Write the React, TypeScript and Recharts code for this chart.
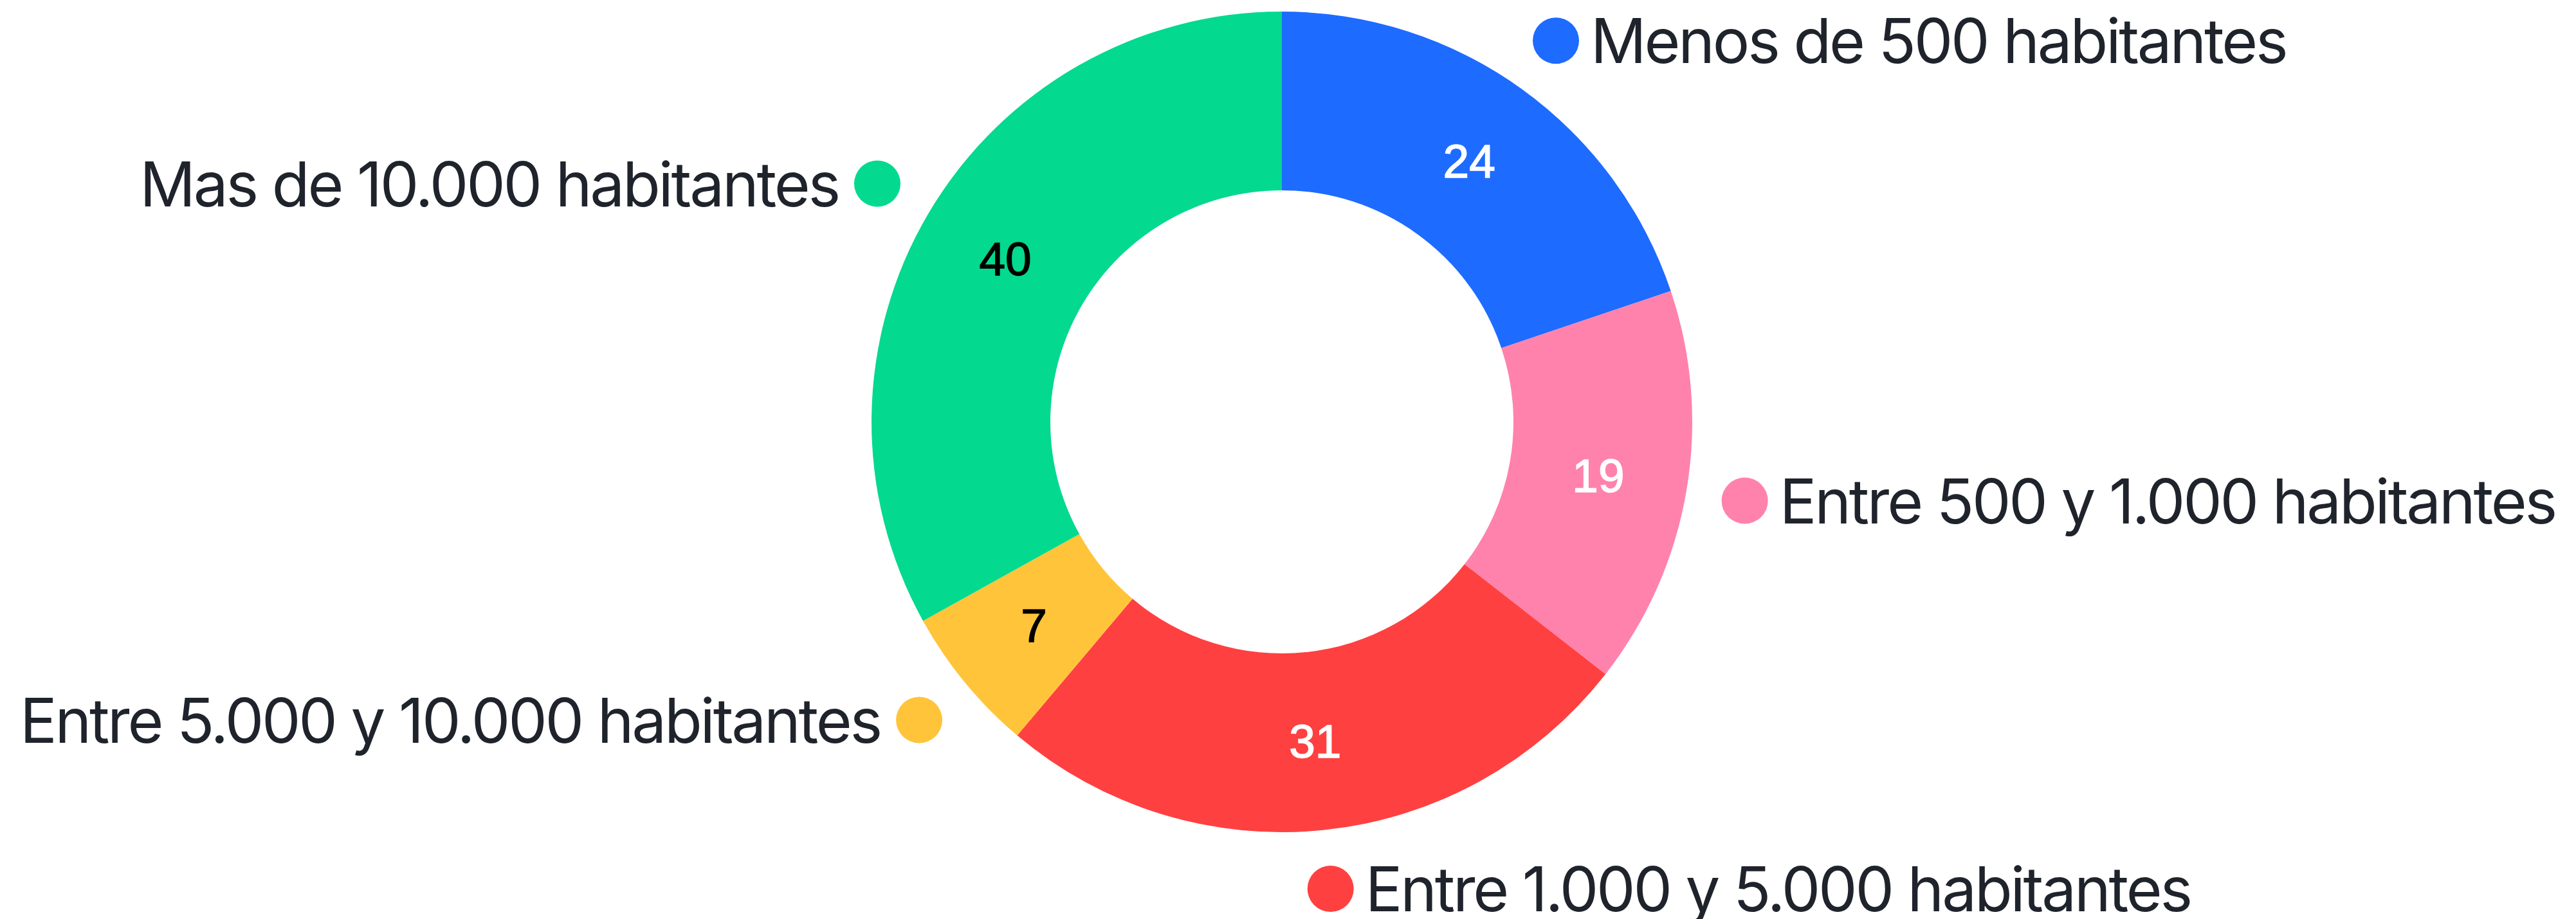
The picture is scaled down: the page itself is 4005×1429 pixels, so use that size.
import { PieChart, Pie, Cell } from "recharts";

const categories = [
  "Menos de 500 habitantes",
  "Entre 500 y 1.000 habitantes",
  "Entre 1.000 y 5.000 habitantes",
  "Entre 5.000 y 10.000 habitantes",
  "Mas de 10.000 habitantes",
];
const values = [24, 19, 31, 7, 40];
const colors = ["#1E6BFF", "#FF82AC", "#FF4040", "#FFC43A", "#03D98F"];
const valueInk = ["#FFFFFF", "#FFFFFF", "#FFFFFF", "#000000", "#000000"];

const data = categories.map((name, i) => ({ name, value: values[i] }));

const RAD = Math.PI / 180;

function renderLabel(props: any) {
  const { cx, cy, midAngle, innerRadius, outerRadius, index, value, name } = props;
  const cos = Math.cos(-midAngle * RAD);
  const sin = Math.sin(-midAngle * RAD);
  const mid = (innerRadius + outerRadius) / 2;
  const vx = cx + mid * cos;
  const vy = cy + mid * sin;
  const dr = outerRadius + 92;
  const dx = cx + dr * cos;
  const dy = cy + dr * sin;
  const right = cos >= 0;
  return (
    <g>
      <text
        x={vx}
        y={vy}
        fill={valueInk[index]}
        stroke={valueInk[index]}
        strokeWidth={1.5}
        textAnchor="middle"
        dominantBaseline="central"
        fontFamily="Liberation Sans, Arial, sans-serif"
        fontSize={73}
      >
        {value}
      </text>
      <circle cx={dx} cy={dy} r={36} fill={colors[index]} />
      <text
        x={right ? dx + 54 : dx - 60}
        y={dy}
        fill="#1F232B"
        textAnchor={right ? "start" : "end"}
        dominantBaseline="central"
        fontFamily="Inter, sans-serif"
        fontSize={96}
        letterSpacing={-3.2}
      >
        {name}
      </text>
    </g>
  );
}

export default function App() {
  return (
    <div style={{ position: "absolute", left: 0, top: 0, background: "#fff" }}>
      <PieChart width={4005} height={1429} margin={{ top: 0, right: 0, bottom: 0, left: 0 }}>
        <Pie
          data={data}
          dataKey="value"
          nameKey="name"
          cx={1993}
          cy={656}
          innerRadius={360}
          outerRadius={638}
          startAngle={90}
          endAngle={-270}
          stroke="none"
          label={renderLabel}
          labelLine={false}
          isAnimationActive={false}
        >
          {data.map((_, i) => (
            <Cell key={i} fill={colors[i]} />
          ))}
        </Pie>
      </PieChart>
    </div>
  );
}
